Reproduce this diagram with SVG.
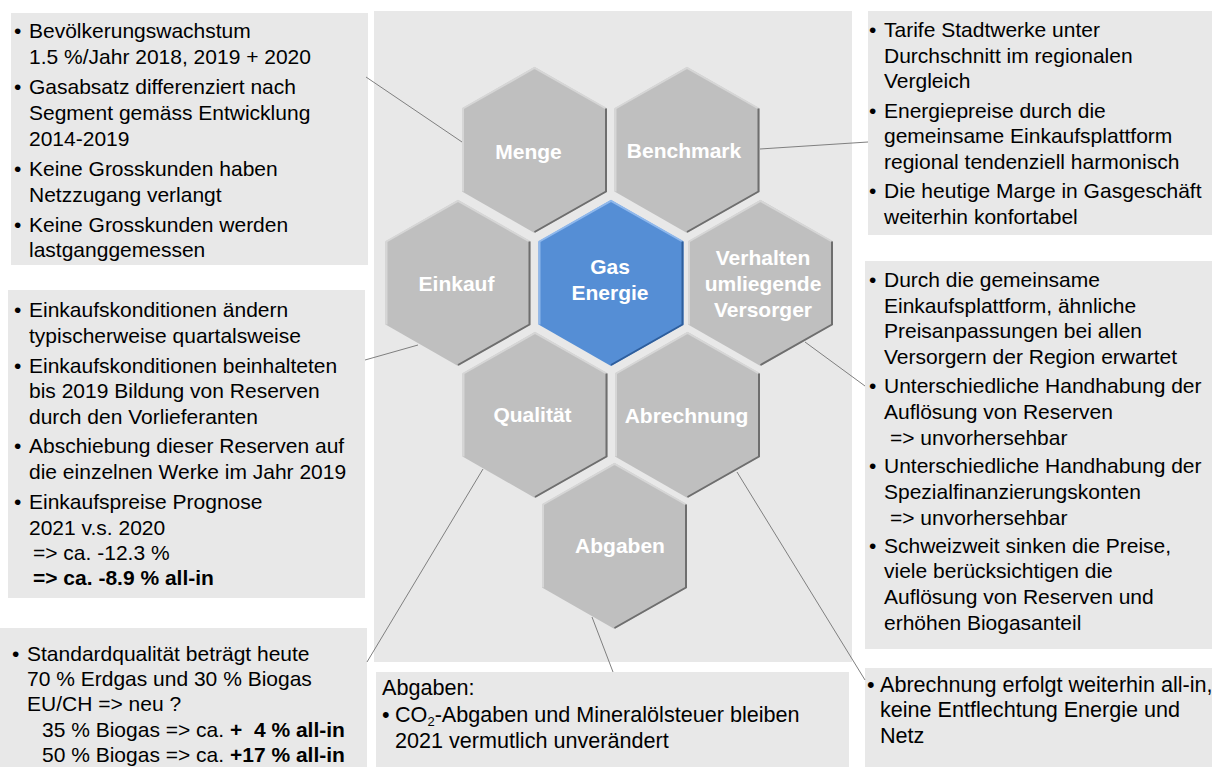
<svg xmlns="http://www.w3.org/2000/svg" xmlns:xlink="http://www.w3.org/1999/xlink" width="1212" height="767" viewBox="0 0 1212 767">
  <style>
    .box { fill: #e8e8e8; }
    .t { font-family: "Liberation Sans", Arial, sans-serif; font-size: 21px; fill: #000; }
    .t2 { font-size: 21.6px; }
    .b { font-weight: bold; }
    .lbl { font-family: "Liberation Sans", Arial, sans-serif; font-size: 21px; font-weight: bold; fill: #fff; text-anchor: middle; }
    .conn { stroke: #7f7f7f; stroke-width: 1; fill: none; }
    .hex-grey { fill: #bfbfbf; }
    .hex-blue { fill: #558ed5; }
    .edge-light { fill: none; stroke: #d6d6d6; stroke-width: 2; stroke-linejoin: miter; }
    .edge-dark { fill: none; stroke: #6e6e6e; stroke-width: 2; stroke-linejoin: miter; }
    .edge-light-blue { fill: none; stroke: #8fb8ec; stroke-width: 2; }
    .edge-dark-blue { fill: none; stroke: #2e5e9c; stroke-width: 2; }
  </style>
  <defs>
    <!-- pointy-top hexagon centred on the origin -->
    <path id="hex" d="M0,-83 L72.5,-41.5 L72.5,41.5 L0,83 L-72.5,41.5 L-72.5,-41.5 Z"/>
    <!-- bevel highlights: lit upper-left edges, shaded lower-right edges -->
    <path id="hex-hi" d="M-71.5,41.5 L-71.5,-41.5 L0,-82 L71.5,-41.5"/>
    <path id="hex-lo" d="M71.5,-41.5 L71.5,41.5 L0,82"/>
  </defs>

  <rect width="1212" height="767" fill="#ffffff"/>

  <!-- central panel behind the honeycomb -->
  <rect class="box" x="374" y="11" width="478" height="651"/>

  <!-- note boxes -->
  <g id="note-menge">
    <rect class="box" x="11" y="13" width="357" height="252"/>
    <text class="t" x="14" y="38">•</text>
    <text class="t" x="29" y="38">Bevölkerungswachstum</text>
    <text class="t" x="29" y="64">1.5 %/Jahr 2018, 2019 + 2020</text>
    <text class="t" x="14" y="94">•</text>
    <text class="t" x="29" y="94">Gasabsatz differenziert nach</text>
    <text class="t" x="29" y="120">Segment gemäss Entwicklung</text>
    <text class="t" x="29" y="146">2014-2019</text>
    <text class="t" x="14" y="176">•</text>
    <text class="t" x="29" y="176">Keine Grosskunden haben</text>
    <text class="t" x="29" y="202">Netzzugang verlangt</text>
    <text class="t" x="14" y="232">•</text>
    <text class="t" x="29" y="232">Keine Grosskunden werden</text>
    <text class="t" x="29" y="257">lastganggemessen</text>
  </g>

  <g id="note-benchmark">
    <rect class="box" x="868" y="11" width="344" height="224"/>
    <text class="t" x="869" y="37">•</text>
    <text class="t" x="884" y="37">Tarife Stadtwerke unter</text>
    <text class="t" x="884" y="62.5">Durchschnitt im regionalen</text>
    <text class="t" x="884" y="88">Vergleich</text>
    <text class="t" x="869" y="117.5">•</text>
    <text class="t" x="884" y="117.5">Energiepreise durch die</text>
    <text class="t" x="884" y="143">gemeinsame Einkaufsplattform</text>
    <text class="t" x="884" y="168.5">regional tendenziell harmonisch</text>
    <text class="t" x="869" y="198">•</text>
    <text class="t" x="884" y="198">Die heutige Marge in Gasgeschäft</text>
    <text class="t" x="884" y="223.5">weiterhin konfortabel</text>
  </g>

  <g id="note-einkauf">
    <rect class="box" x="8" y="290" width="357" height="308"/>
    <text class="t" x="14" y="317">•</text>
    <text class="t" x="29" y="317">Einkaufskonditionen ändern</text>
    <text class="t" x="29" y="343">typischerweise quartalsweise</text>
    <text class="t" x="14" y="373">•</text>
    <text class="t" x="29" y="373">Einkaufskonditionen beinhalteten</text>
    <text class="t" x="29" y="398">bis 2019 Bildung von Reserven</text>
    <text class="t" x="29" y="424">durch den Vorlieferanten</text>
    <text class="t" x="14" y="453">•</text>
    <text class="t" x="29" y="453">Abschiebung dieser Reserven auf</text>
    <text class="t" x="29" y="479">die einzelnen Werke im Jahr 2019</text>
    <text class="t" x="14" y="509">•</text>
    <text class="t" x="29" y="509">Einkaufspreise Prognose</text>
    <text class="t" x="29" y="535">2021 v.s. 2020</text>
    <text class="t" x="33" y="560">=&gt; ca. -12.3 %</text>
    <text class="t b" x="33" y="585">=&gt; ca. -8.9 % all-in</text>
  </g>

  <g id="note-verhalten">
    <rect class="box" x="865" y="261" width="347" height="388"/>
    <text class="t" x="869" y="287">•</text>
    <text class="t" x="884" y="287">Durch die gemeinsame</text>
    <text class="t" x="884" y="313">Einkaufsplattform, ähnliche</text>
    <text class="t" x="884" y="338">Preisanpassungen bei allen</text>
    <text class="t" x="884" y="364">Versorgern der Region erwartet</text>
    <text class="t" x="869" y="393">•</text>
    <text class="t" x="884" y="393">Unterschiedliche Handhabung der</text>
    <text class="t" x="884" y="419">Auflösung von Reserven</text>
    <text class="t" x="890" y="445">=&gt; unvorhersehbar</text>
    <text class="t" x="869" y="473">•</text>
    <text class="t" x="884" y="473">Unterschiedliche Handhabung der</text>
    <text class="t" x="884" y="499">Spezialfinanzierungskonten</text>
    <text class="t" x="890" y="525">=&gt; unvorhersehbar</text>
    <text class="t" x="869" y="553">•</text>
    <text class="t" x="884" y="553">Schweizweit sinken die Preise,</text>
    <text class="t" x="884" y="578">viele berücksichtigen die</text>
    <text class="t" x="884" y="604">Auflösung von Reserven und</text>
    <text class="t" x="884" y="630">erhöhen Biogasanteil</text>
  </g>

  <g id="note-qualitaet">
    <rect class="box" x="0" y="628" width="367" height="139"/>
    <text class="t" x="12" y="661">•</text>
    <text class="t" x="27" y="661">Standardqualität beträgt heute</text>
    <text class="t" x="27" y="686">70 % Erdgas und 30 % Biogas</text>
    <text class="t" x="27" y="711">EU/CH =&gt; neu ?</text>
    <text class="t" x="42" y="737" xml:space="preserve">35 % Biogas =&gt; ca. <tspan class="b">+  4 % all-in</tspan></text>
    <text class="t" x="42" y="762" xml:space="preserve">50 % Biogas =&gt; ca. <tspan class="b">+17 % all-in</tspan></text>
  </g>

  <g id="note-abgaben">
    <rect class="box" x="376" y="672" width="473" height="95"/>
    <text class="t t2" x="382" y="695">Abgaben:</text>
    <text class="t t2" x="382" y="722">•</text>
    <text class="t t2" x="395" y="722">CO<tspan font-size="13" dy="3.5">2</tspan><tspan dy="-3.5">-Abgaben und Mineralölsteuer bleiben</tspan></text>
    <text class="t t2" x="395" y="748">2021 vermutlich unverändert</text>
  </g>

  <g id="note-abrechnung">
    <rect class="box" x="865" y="668" width="347" height="99"/>
    <text class="t t2" x="867" y="692">•</text>
    <text class="t t2" x="880" y="692">Abrechnung erfolgt weiterhin all-in,</text>
    <text class="t t2" x="880" y="717">keine Entflechtung Energie und</text>
    <text class="t t2" x="880" y="743">Netz</text>
  </g>

  <!-- leader lines from each cell to its note -->
  <g id="connectors">
    <line class="conn" x1="366" y1="77" x2="462" y2="142"/>
    <line class="conn" x1="760" y1="149" x2="868" y2="142"/>
    <line class="conn" x1="365" y1="360" x2="418" y2="345"/>
    <line class="conn" x1="805" y1="342" x2="865" y2="386"/>
    <line class="conn" x1="483" y1="469" x2="367" y2="662"/>
    <line class="conn" x1="592" y1="617" x2="613" y2="672"/>
    <line class="conn" x1="737" y1="472" x2="865" y2="680"/>
  </g>

  <!-- honeycomb cells -->
  <g id="menge" transform="translate(534.5,150)">
    <use xlink:href="#hex" class="hex-grey"/>
    <use xlink:href="#hex-hi" class="edge-light"/>
    <use xlink:href="#hex-lo" class="edge-dark"/>
    <text class="lbl" x="-6" y="9">Menge</text>
  </g>

  <g id="benchmark" transform="translate(687,150)">
    <use xlink:href="#hex" class="hex-grey"/>
    <use xlink:href="#hex-hi" class="edge-light"/>
    <use xlink:href="#hex-lo" class="edge-dark"/>
    <text class="lbl" x="-3" y="8">Benchmark</text>
  </g>

  <g id="einkauf" transform="translate(458,283)">
    <use xlink:href="#hex" class="hex-grey"/>
    <use xlink:href="#hex-hi" class="edge-light"/>
    <use xlink:href="#hex-lo" class="edge-dark"/>
    <text class="lbl" x="-1.5" y="8">Einkauf</text>
  </g>

  <g id="gas-energie" transform="translate(611,283)">
    <use xlink:href="#hex" class="hex-blue"/>
    <use xlink:href="#hex-hi" class="edge-light-blue"/>
    <use xlink:href="#hex-lo" class="edge-dark-blue"/>
    <text class="lbl" x="-1" y="-9">Gas</text>
    <text class="lbl" x="-1" y="17">Energie</text>
  </g>

  <g id="verhalten" transform="translate(760.5,283)">
    <use xlink:href="#hex" class="hex-grey"/>
    <use xlink:href="#hex-hi" class="edge-light"/>
    <use xlink:href="#hex-lo" class="edge-dark"/>
    <text class="lbl" x="2.5" y="-18">Verhalten</text>
    <text class="lbl" x="2.5" y="8">umliegende</text>
    <text class="lbl" x="2.5" y="34">Versorger</text>
  </g>

  <g id="qualitaet" transform="translate(535,415)">
    <use xlink:href="#hex" class="hex-grey"/>
    <use xlink:href="#hex-hi" class="edge-light"/>
    <use xlink:href="#hex-lo" class="edge-dark"/>
    <text class="lbl" x="-2.5" y="7">Qualität</text>
  </g>

  <g id="abrechnung" transform="translate(687.5,415)">
    <use xlink:href="#hex" class="hex-grey"/>
    <use xlink:href="#hex-hi" class="edge-light"/>
    <use xlink:href="#hex-lo" class="edge-dark"/>
    <text class="lbl" x="-1" y="8">Abrechnung</text>
  </g>

  <g id="abgaben" transform="translate(614.5,546)">
    <use xlink:href="#hex" class="hex-grey"/>
    <use xlink:href="#hex-hi" class="edge-light"/>
    <use xlink:href="#hex-lo" class="edge-dark"/>
    <text class="lbl" x="5.5" y="7">Abgaben</text>
  </g>
</svg>
